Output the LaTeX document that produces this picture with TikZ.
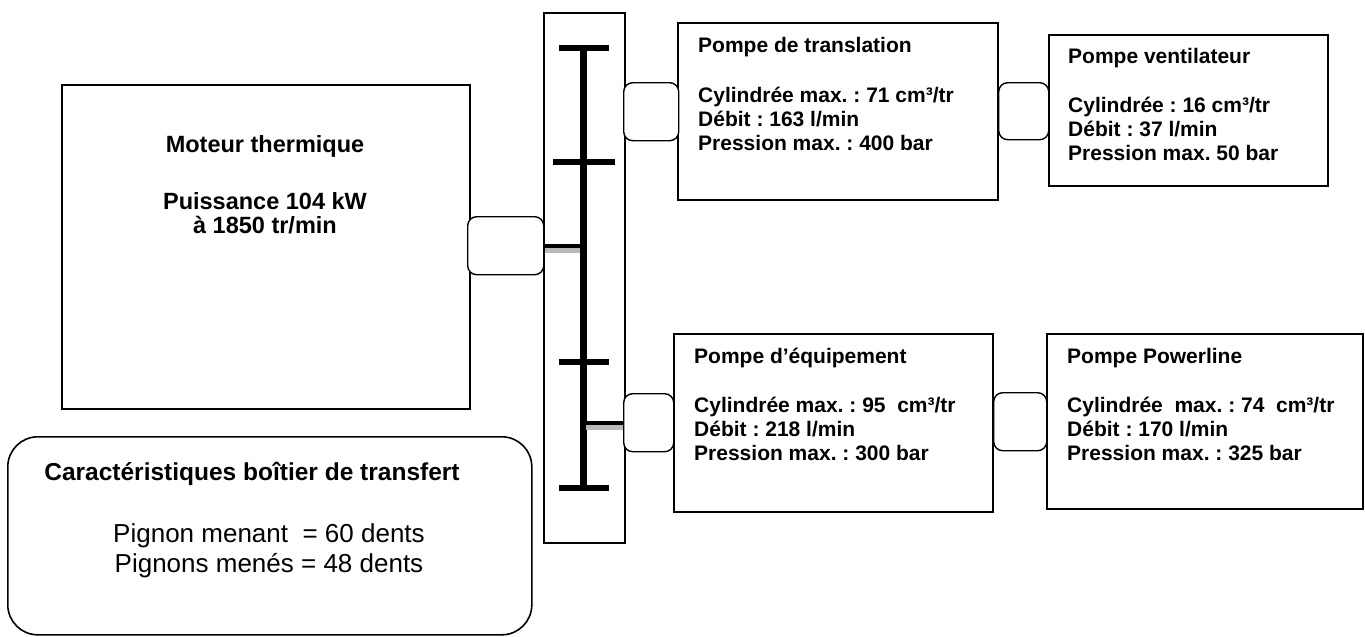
\documentclass[tikz,border=0pt]{standalone}
\usepackage{fontspec}
\setmainfont{Liberation Sans}
\frenchspacing
\begin{document}
\begin{tikzpicture}[x=1pt,y=-1pt,
  box/.style={draw, line width=1.6pt, inner sep=0pt, anchor=north west, fill=white},
  coup/.style={draw, line width=1.4pt, rounded corners=9pt, inner sep=0pt, anchor=north west, fill=white},
  ptxt/.style={anchor=base west, inner sep=0pt, font=\fontsize{21}{24}\selectfont\bfseries},
  mtxt/.style={anchor=base, inner sep=0pt, font=\fontsize{23.5}{27}\selectfont\bfseries},
  gear/.style={line width=6pt},
  shaftb/.style={line width=4pt},
  shaftg/.style={line width=5pt, gray!55}]
\useasboundingbox (0,0) rectangle (1365,637);

% main boxes
\node[box, minimum width=408pt, minimum height=324pt] (mot) at (61,84) {};
\node[box, minimum width=524pt, minimum height=198pt, rounded corners=30pt] (car) at (7,436) {};
\node[box, minimum width=81pt, minimum height=530pt] (tb) at (543,12) {};
\node[box, minimum width=320pt, minimum height=177pt] (ptr) at (677,22) {};
\node[box, minimum width=279pt, minimum height=151pt] (pve) at (1048,34) {};
\node[box, minimum width=319pt, minimum height=178pt] (peq) at (673,333) {};
\node[box, minimum width=316pt, minimum height=175pt] (ppw) at (1046,333) {};

% couplings
\node[coup, minimum width=76pt, minimum height=58pt] (mc) at (467,216) {};
\node[coup, minimum width=55pt, minimum height=58pt] (c1) at (623,82) {};
\node[coup, minimum width=50pt, minimum height=57pt] (c2) at (998,82) {};
\node[coup, minimum width=50pt, minimum height=58pt] (c3) at (623,393) {};
\node[coup, minimum width=53pt, minimum height=58pt] (c4) at (993,392) {};

% gear train
\coordinate (stop) at (583,48);
\coordinate (sbot) at (583,488);
\draw[line width=7pt] (stop) -- (sbot);
\coordinate (g1l) at (559,48);  \coordinate (g1r) at (609,48);
\coordinate (g2l) at (553,162); \coordinate (g2r) at (615,162);
\coordinate (g3l) at (559,362); \coordinate (g3r) at (609,362);
\coordinate (g4l) at (559,488); \coordinate (g4r) at (609,488);
\draw[gear] (g1l) -- (g1r);
\draw[gear] (g2l) -- (g2r);
\draw[gear] (g3l) -- (g3r);
\draw[gear] (g4l) -- (g4r);

% input shaft from motor coupling
\coordinate (ia) at (545,246); \coordinate (ib) at (580,246);
\coordinate (ic) at (545,250.5); \coordinate (id) at (580,250.5);
\draw[shaftg] (ic) -- (id);
\draw[shaftb] (ia) -- (ib);
% output shaft to lower coupling
\coordinate (oa) at (586,423); \coordinate (ob) at (623,423);
\coordinate (oc) at (586,427.5); \coordinate (od) at (623,427.5);
\draw[shaftg] (oc) -- (od);
\draw[shaftb] (oa) -- (ob);

% Moteur text
\node[mtxt] (m1) at (265,152) {Moteur thermique};
\node[mtxt] (m2) at (265,209) {Puissance 104 kW};
\node[mtxt] (m3) at (265,233) {à 1850 tr/min};

% Caracteristiques
\node[anchor=base, inner sep=0pt, font=\fontsize{24.5}{28}\selectfont\bfseries] (k1) at (252,480) {Caractéristiques boîtier de transfert};
\node[anchor=base, inner sep=0pt, font=\fontsize{26}{30}\selectfont] (k2) at (269,542) {Pignon menant \ = 60 dents};
\node[anchor=base, inner sep=0pt, font=\fontsize{26}{30}\selectfont] (k3) at (269,572) {Pignons menés = 48 dents};

% Pompe de translation
\node[ptxt] (a1) at (698,52) {Pompe de translation};
\node[ptxt] (a2) at (698,102) {Cylindrée max. : 71 cm³/tr};
\node[ptxt] (a3) at (698,126) {Débit : 163 l/min};
\node[ptxt] (a4) at (698,150) {Pression max. : 400 bar};

% Pompe ventilateur
\node[ptxt] (b1) at (1068,63) {Pompe ventilateur};
\node[ptxt] (b2) at (1068,112) {Cylindrée : 16 cm³/tr};
\node[ptxt] (b3) at (1068,136) {Débit : 37 l/min};
\node[ptxt] (b4) at (1068,160) {Pression max. 50 bar};

% Pompe d'equipement
\node[ptxt] (e1) at (694,363) {Pompe d’équipement};
\node[ptxt] (e2) at (694,412) {Cylindrée max. : 95 \ cm³/tr};
\node[ptxt] (e3) at (694,436) {Débit : 218 l/min};
\node[ptxt] (e4) at (694,460) {Pression max. : 300 bar};

% Pompe Powerline
\node[ptxt] (p1) at (1067,363) {Pompe Powerline};
\node[ptxt] (p2) at (1067,412) {Cylindrée \ max. : 74 \ cm³/tr};
\node[ptxt] (p3) at (1067,436) {Débit : 170 l/min};
\node[ptxt] (p4) at (1067,460) {Pression max. : 325 bar};
\end{tikzpicture}
\end{document}
